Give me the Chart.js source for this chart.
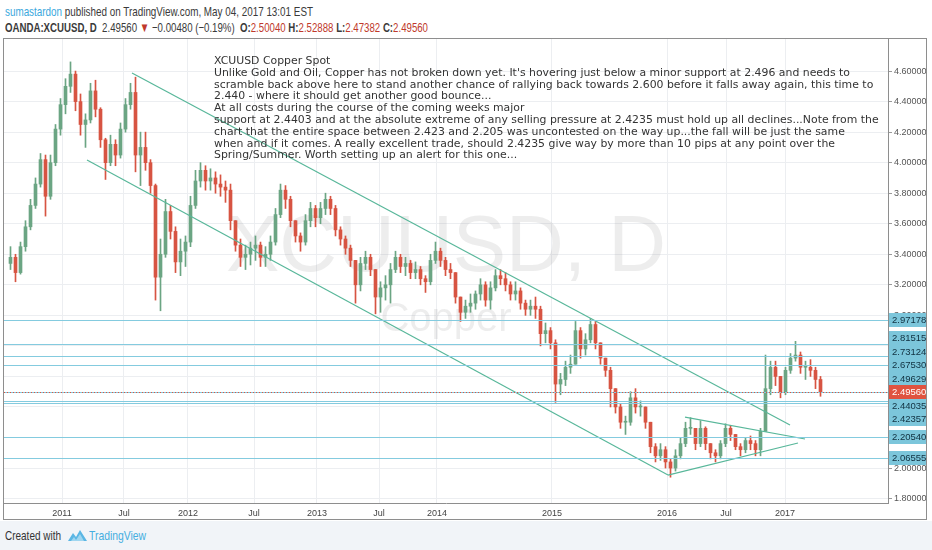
<!DOCTYPE html>
<html>
<head>
<meta charset="utf-8">
<script src="https://cdn.jsdelivr.net/npm/chart.js@4.4.1/dist/chart.umd.min.js"></script>
<style>
html,body{margin:0;padding:0;background:#fff;width:932px;height:550px;overflow:hidden;font-family:"Liberation Sans",Arial,sans-serif}
.fit{position:absolute;white-space:nowrap;transform-origin:0 0}
#hdr1{left:5px;top:4px;font-size:13px;color:#3a3a3a}
#hdr2{left:5px;top:20px;font-size:13px;color:#3a3a3a}
#hdr1 .usr{color:#3aa8dd}
.red{color:#c0392b}
#frame{position:absolute;left:3px;top:38px;width:924px;height:482px;border:1px solid #8e8e8e;box-sizing:border-box}
#box{position:absolute;left:4px;top:39px;width:922px;height:480px}
#foot{position:absolute;left:0;top:521px;width:932px;height:29px;background:#f1f4f8}
#note{position:absolute;left:214px;top:55px;font-family:"DejaVu Sans",Verdana,sans-serif;font-size:11px;line-height:11.8px;color:#333;transform-origin:0 0}
#note div{white-space:pre}
#created{left:5px;top:528px;font-size:13px;color:#333}
#tvtext{left:89px;top:528px;font-size:13px;color:#45aee0}
#logo{position:absolute;left:68px;top:529px}
</style>
</head>
<body>
<div id="hdr1" class="fit"><span class="usr">sumastardon</span> published on TradingView.com, May 04, 2017 13:01 EST</div>
<div id="hdr2" class="fit"><b>OANDA:XCUUSD, D</b>&nbsp; 2.49560 <span class="red">&#9660;</span> &minus;0.00480 (&minus;0.19%) &nbsp;<b>O:</b><span class="red">2.50040</span> <b>H:</b><span class="red">2.52888</span> <b>L:</b><span class="red">2.47382</span> <b>C:</b><span class="red">2.49560</span></div>
<div id="frame"></div>
<div id="box"><canvas id="c"></canvas></div>
<div id="note">
<div><span>XCUUSD Copper Spot</span></div>
<div><span id="measure">Unlike Gold and Oil, Copper has not broken down yet. It's hovering just below a minor support at 2.496 and needs to</span></div>
<div><span>scramble back above here to stand another chance of rallying back towards 2.600 before it falls away again, this time to</span></div>
<div><span>2.440 - where it should get another good bounce...</span></div>
<div><span>At all costs during the course of the coming weeks major</span></div>
<div><span>support at 2.4403 and at the absolute extreme of any selling pressure at 2.4235 must hold up all declines...Note from the</span></div>
<div><span>chart that the entire space between 2.423 and 2.205 was uncontested on the way up...the fall will be just the same</span></div>
<div><span>when and if it comes. A really excellent trade, should 2.4235 give way by more than 10 pips at any point over the</span></div>
<div><span>Spring/Summer. Worth setting up an alert for this one...</span></div>
</div>
<div id="foot"></div>
<div id="created" class="fit">Created with</div>
<svg id="logo" width="19" height="13" viewBox="0 0 19 13"><path d="M0 12 L5 4 L8 8 L12 1 L19 12 Z" fill="#5ab6e4"/><path d="M3 12 L6 8 L8 11 L12 5 L16 12 Z" fill="#9fd6f0"/></svg>
<div id="tvtext" class="fit">TradingView</div>
<script>
// half-month candles (slot 0 = Aug 2010, last = 4 May 2017)
const closes=[
3.38,3.28,3.45,3.58,3.72,3.86,4.02,3.78,4.00,4.22,
4.38,4.50,4.58,4.40,4.25,4.28,4.47,4.35,4.15,4.00,
4.12,4.05,4.22,4.38,4.46,4.05,4.10,4.00,3.85,3.25,
3.40,3.68,3.55,3.35,3.42,3.48,3.72,3.88,3.95,3.88,
3.90,3.86,3.84,3.82,3.62,3.46,3.38,3.40,3.44,3.46,
3.38,3.40,3.48,3.66,3.82,3.76,3.62,3.52,3.48,3.62,
3.70,3.64,3.70,3.76,3.70,3.56,3.50,3.44,3.36,3.20,
3.34,3.38,3.30,3.12,3.18,3.20,3.30,3.38,3.32,3.34,
3.28,3.30,3.24,3.22,3.36,3.42,3.36,3.30,3.28,3.12,
3.02,3.06,3.08,3.14,3.20,3.10,3.18,3.26,3.24,3.20,
3.14,3.16,3.08,3.04,3.06,3.04,2.88,2.90,2.82,2.55,
2.58,2.66,2.68,2.90,2.78,2.84,2.94,2.82,2.72,2.64,
2.52,2.40,2.30,2.30,2.46,2.40,2.40,2.30,2.14,2.08,
2.12,2.04,2.00,2.08,2.16,2.26,2.26,2.16,2.26,2.16,
2.10,2.08,2.16,2.26,2.22,2.14,2.12,2.18,2.16,2.12,
2.24,2.52,2.66,2.60,2.50,2.64,2.72,2.74,2.66,2.66,
2.64,2.58,2.4956];
const highs=[
3.45,3.40,3.48,3.62,3.76,3.90,4.06,4.05,4.05,4.25,
4.42,4.55,4.66,4.60,4.45,4.32,4.52,4.54,4.36,4.16,
4.18,4.15,4.26,4.42,4.52,4.56,4.20,4.20,4.02,3.86,
3.50,3.76,3.72,3.58,3.50,3.52,3.78,3.95,4.00,3.98,
3.96,3.94,3.92,3.88,3.86,3.62,3.50,3.46,3.48,3.52,
3.48,3.45,3.52,3.70,3.86,3.85,3.78,3.62,3.54,3.66,
3.74,3.72,3.74,3.80,3.78,3.72,3.58,3.52,3.46,3.36,
3.38,3.42,3.40,3.30,3.22,3.26,3.34,3.42,3.40,3.38,
3.36,3.35,3.32,3.26,3.40,3.48,3.44,3.38,3.34,3.28,
3.12,3.10,3.14,3.16,3.24,3.22,3.22,3.30,3.30,3.28,
3.22,3.22,3.18,3.10,3.10,3.12,3.06,2.95,2.92,2.84,
2.62,2.70,2.74,2.96,2.92,2.88,2.98,2.96,2.82,2.72,
2.66,2.52,2.42,2.34,2.50,2.52,2.44,2.40,2.30,2.16,
2.16,2.14,2.06,2.12,2.20,2.30,2.33,2.26,2.31,2.27,
2.16,2.12,2.18,2.29,2.28,2.22,2.16,2.20,2.21,2.18,
2.26,2.74,2.70,2.70,2.60,2.66,2.75,2.83,2.76,2.70,
2.71,2.66,2.60];
const lows=[
3.30,3.22,3.27,3.42,3.56,3.70,3.84,3.65,3.76,3.98,
4.18,4.32,4.46,4.34,4.18,4.10,4.26,4.30,4.10,3.89,
3.98,3.98,4.03,4.20,4.35,3.94,3.85,3.95,3.80,3.10,
3.03,3.38,3.50,3.28,3.26,3.32,3.45,3.70,3.84,3.82,
3.82,3.80,3.78,3.74,3.56,3.42,3.32,3.30,3.33,3.36,
3.32,3.32,3.36,3.46,3.64,3.70,3.58,3.48,3.42,3.46,
3.58,3.58,3.60,3.66,3.66,3.52,3.46,3.40,3.32,3.08,
3.16,3.30,3.26,3.01,3.02,3.10,3.08,3.28,3.28,3.26,
3.24,3.24,3.20,3.15,3.20,3.34,3.32,3.26,3.24,3.08,
2.96,2.98,3.02,3.04,3.10,3.06,3.04,3.16,3.20,3.16,
3.10,3.10,3.04,3.00,3.00,2.98,2.80,2.82,2.78,2.43,
2.48,2.54,2.62,2.68,2.72,2.74,2.82,2.78,2.68,2.60,
2.40,2.36,2.26,2.22,2.28,2.36,2.34,2.26,2.10,2.04,
2.05,2.00,1.94,1.98,2.06,2.14,2.22,2.12,2.14,2.12,
2.06,2.04,2.06,2.14,2.18,2.12,2.08,2.10,2.12,2.08,
2.08,2.24,2.48,2.54,2.46,2.48,2.62,2.70,2.62,2.58,
2.60,2.52,2.47];
const firstOpen=3.34;
const lastPrice=2.4956;

// drawn horizontal levels
const levels=[2.97178,2.81515,2.73124,2.67530,2.49629,2.44035,2.42357,2.20540,2.06555];
// drawn trend lines: [slotA, priceA, slotB, priceB]
const trendLines=[[24.3,4.587,155.9,2.282],[15.3,4.017,131.5,1.954],[131.5,1.954,157.5,2.164],[134.9,2.334,158.9,2.190]];

const priceTicks=[1.8,2.0,2.2,2.4,2.6,2.8,3.0,3.2,3.4,3.6,3.8,4.0,4.2,4.4,4.6];
const xTickLabels=['2011','Jul','2012','Jul','2013','Jul','2014','2015','2016','Jul','2017'];
const xTickSlots=[10.3,22.7,35.5,48.7,61.3,73.7,85.3,108.3,131.3,143.1,154.9];

const UP='#6ba583',DOWN='#d75442';
const opens=closes.map((c,i)=>i?closes[i-1]:firstOpen);
const colours=closes.map((c,i)=>c>=opens[i]?UP:DOWN);
const bodies=closes.map((c,i)=>({x:i,y:[opens[i],c]}));
const wicks=closes.map((c,i)=>({x:i,y:[Math.min(lows[i],opens[i],c),Math.max(highs[i],opens[i],c)]}));

const chartDecor={
  id:'chartDecor',
  beforeDatasetsDraw(chart){
    const {ctx,chartArea:a}=chart;
    const cx=(a.left+a.right)/2, cy=(a.top+a.bottom)/2;
    ctx.save();
    ctx.fillStyle='rgba(140,140,140,0.16)';
    ctx.textAlign='center';ctx.textBaseline='alphabetic';
    ctx.font='80px "Liberation Sans", Arial';
    ctx.fillText('XCUUSD, D',cx,cy);
    ctx.font='40px "Liberation Sans", Arial';
    ctx.fillText('Copper',cx,cy+60);
    ctx.restore();
  },
  afterDatasetsDraw(chart){
    const {ctx,chartArea:a,scales:{y}}=chart;
    ctx.save();
    ctx.lineWidth=1;
    ctx.strokeStyle='#84cbdf';
    levels.forEach(v=>{
      const py=Math.round(y.getPixelForValue(v))+0.5;
      ctx.beginPath();ctx.moveTo(a.left,py);ctx.lineTo(a.right,py);ctx.stroke();
    });
    const pr=Math.round(y.getPixelForValue(lastPrice))+0.5;
    ctx.strokeStyle='#e0533f';ctx.setLineDash([1,2]);
    ctx.beginPath();ctx.moveTo(a.left,pr);ctx.lineTo(a.right,pr);ctx.stroke();
    ctx.restore();
  },
  afterDraw(chart){
    const {ctx,chartArea:a,scales:{y}}=chart;
    const items=levels.map(v=>({y:y.getPixelForValue(v),text:v.toFixed(5),bg:'#7cc6db',fg:'#10303f',fixed:false}));
    items.push({y:y.getPixelForValue(lastPrice),text:lastPrice.toFixed(5),bg:'#e0533f',fg:'#ffffff',fixed:true});
    items.sort((p,q)=>p.y-q.y);
    const h=13.5;
    for(let k=0;k<80;k++){
      for(let j=1;j<items.length;j++){
        const p=items[j-1],q=items[j],d=h-(q.y-p.y);
        if(d>0){
          if(p.fixed)q.y+=d; else if(q.fixed)p.y-=d; else {p.y-=d/2;q.y+=d/2;}
        }
      }
    }
    ctx.save();
    ctx.font='9.5px "Liberation Sans", Arial';
    ctx.textBaseline='middle';ctx.textAlign='left';
    const x0=a.right+1, w=chart.width-x0;
    items.forEach(it=>{
      ctx.fillStyle=it.bg;
      ctx.fillRect(x0,Math.round(it.y-7),w,14);
      ctx.fillStyle=it.fg;
      ctx.fillText(it.text,a.right+4,it.y+0.5);
    });
    ctx.restore();
  }
};

new Chart(document.getElementById('c'),{
  type:'bar',
  data:{
    datasets:[
      ...trendLines.map(t=>({type:'line',data:[{x:t[0],y:t[1]},{x:t[2],y:t[3]}],borderColor:'#58b79a',borderWidth:1.2,pointRadius:0,fill:false})),
      {type:'bar',data:bodies,backgroundColor:colours,barThickness:3,grouped:false,minBarLength:1},
      {type:'bar',data:wicks,backgroundColor:colours,barThickness:1,grouped:false}
    ]
  },
  options:{
    responsive:true,maintainAspectRatio:false,animation:false,
    layout:{padding:0},
    plugins:{legend:{display:false},tooltip:{enabled:false}},
    scales:{
      x:{type:'linear',min:-1.3,max:175.5,offset:false,
        grid:{color:'#eceef1',drawTicks:false,offset:false},
        border:{color:'#8e8e8e'},
        ticks:{color:'#444',font:{size:9,family:'Liberation Sans'},padding:5,autoSkip:false,maxRotation:0,
          callback:(v,i)=>xTickLabels[i]},
        afterBuildTicks:s=>{s.ticks=xTickSlots.map(v=>({value:v}))},
        afterFit:s=>{s.height=16;s.paddingLeft=0;s.paddingRight=0}
      },
      y:{type:'linear',position:'right',min:1.771,max:4.810,
        grid:{color:'#eceef1',tickColor:'#999',tickLength:4},
        border:{color:'#8e8e8e'},
        ticks:{color:'#555',font:{size:9,family:'Liberation Sans'},padding:2,autoSkip:false,
          callback:v=>v.toFixed(5)},
        afterBuildTicks:s=>{s.ticks=priceTicks.map(v=>({value:v}))},
        afterFit:s=>{s.width=38;s.paddingTop=0;s.paddingBottom=0}
      }
    }
  },
  plugins:[chartDecor]
});

function fitWidth(id,target){
  const e=document.getElementById(id);
  const w=e.getBoundingClientRect().width;
  e.style.transform='scaleX('+(target/w)+')';
}
fitWidth('hdr1',308);
fitWidth('hdr2',423);
fitWidth('created',56);
fitWidth('tvtext',57);
const mw=document.getElementById('measure').getBoundingClientRect().width;
document.getElementById('note').style.transform='scaleX('+(636/mw)+')';
</script>
</body>
</html>
